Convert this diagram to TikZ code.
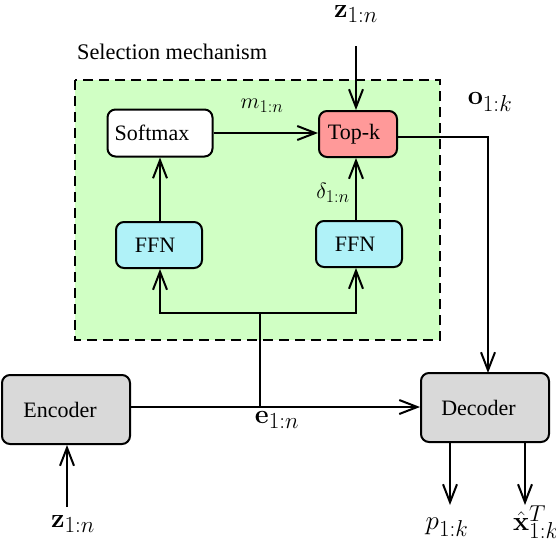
\RequirePackage{fix-cm}
\documentclass[tikz,border=0pt]{standalone}
\usepackage[no-math]{fontspec}
\setmainfont{Liberation Serif}
\usetikzlibrary{arrows.meta}
\DeclareMathSizes{27}{27}{23}{17}
\DeclareMathSizes{22}{22}{18}{14}
\definecolor{selgreen}{HTML}{D0FFC4}
\definecolor{topkred}{HTML}{FF9999}
\definecolor{ffncyan}{HTML}{B0F2F8}
\definecolor{boxgray}{HTML}{D9D9D9}
\newcommand{\lft}[2]{\hspace*{-#1pt}#2}
\tikzset{
  blk/.style={draw, line width=2pt, rounded corners=8pt, inner sep=0pt,
    font=\fontsize{22}{25}\selectfont},
  ln/.style={line width=2pt},
  arr/.style={line width=2pt, -{Straight Barb[length=18pt,width=14pt,line width=2pt]}},
  biglab/.style={inner sep=0pt, font=\fontsize{27}{30}\selectfont},
  smlab/.style={inner sep=0pt, font=\fontsize{22}{25}\selectfont},
}
\begin{document}
\begin{tikzpicture}[x=1pt,y=-1pt]
\useasboundingbox (0,0) rectangle (556,542);
% selection region
\draw[ln, fill=selgreen, dash pattern=on 10pt off 6pt] (75,80) rectangle (440,340);
\node[anchor=west, inner sep=0pt, font=\fontsize{22}{25}\selectfont] (sel) at (77,52) {\resizebox{190pt}{!}{Selection mechanism}};
% blocks
\node[blk, fill=white, minimum width=105pt, minimum height=47pt] (soft) at (160,133) {\lft{16}{Softmax}};
\node[blk, fill=topkred, minimum width=78pt, minimum height=46pt] (topk) at (358,134) {\lft{8}{Top-k}};
\node[blk, fill=ffncyan, minimum width=86pt, minimum height=46pt] (ffn1) at (159,245) {\lft{8}{FFN}};
\node[blk, fill=ffncyan, minimum width=86pt, minimum height=46pt] (ffn2) at (359,244) {\lft{8}{FFN}};
\node[blk, fill=boxgray, minimum width=128pt, minimum height=69pt] (enc) at (66,409.5) {\lft{12}{Encoder}};
\node[blk, fill=boxgray, minimum width=128pt, minimum height=69pt] (dec) at (485,407.5) {\lft{13}{Decoder}};
% labels
\node[biglab] (zt) at (356,14) {$\mathbf{z}_{1:n}$};
\node[biglab] (ol) at (490,102) {$\mathbf{o}_{1:k}$};
\node[smlab] (ml) at (262,106) {$m_{1:n}$};
\node[smlab] (dl) at (333,193) {$\delta_{1:n}$};
\node[biglab] (el) at (277,420) {$\mathbf{e}_{1:n}$};
\node[biglab] (zb) at (73,524) {$\mathbf{z}_{1:n}$};
\node[biglab] (pl) at (447,527) {$p_{1:k}$};
\node[biglab, anchor=west] (xl) at (513,522) {$\hat{\mathbf{x}}^{T}_{1:k}$};
% coordinates
\coordinate (zts) at (356,46);
\coordinate (zbs) at (67,507);
\coordinate (br) at (260,313);
\coordinate (j) at (260,407);
\coordinate (dn) at (488,373);
\coordinate (po) at (450,505);
\coordinate (xo) at (525,505);
% connectors
\draw[arr] (zts) -- (zts |- topk.north);
\draw[arr] (soft.east) -- (soft.east -| topk.west);
\draw[arr] (ffn1.north -| soft.south) -- (soft.south);
\draw[arr] (ffn2.north -| zts) -- (zts |- topk.south);
\draw[ln] (j) -- (br);
\draw[arr] (br) -| (ffn1.south -| soft.south);
\draw[arr] (br) -| (ffn2.south -| zts);
\draw[arr] (enc.east |- j) -- (dec.west |- j);
\draw[arr] ([yshift=-3pt]topk.east) -| (dn);
\draw[arr] (zbs) -- (zbs |- enc.south);
\draw[arr] (po |- dec.south) -- (po);
\draw[arr] (xo |- dec.south) -- (xo);
\end{tikzpicture}
\end{document}
